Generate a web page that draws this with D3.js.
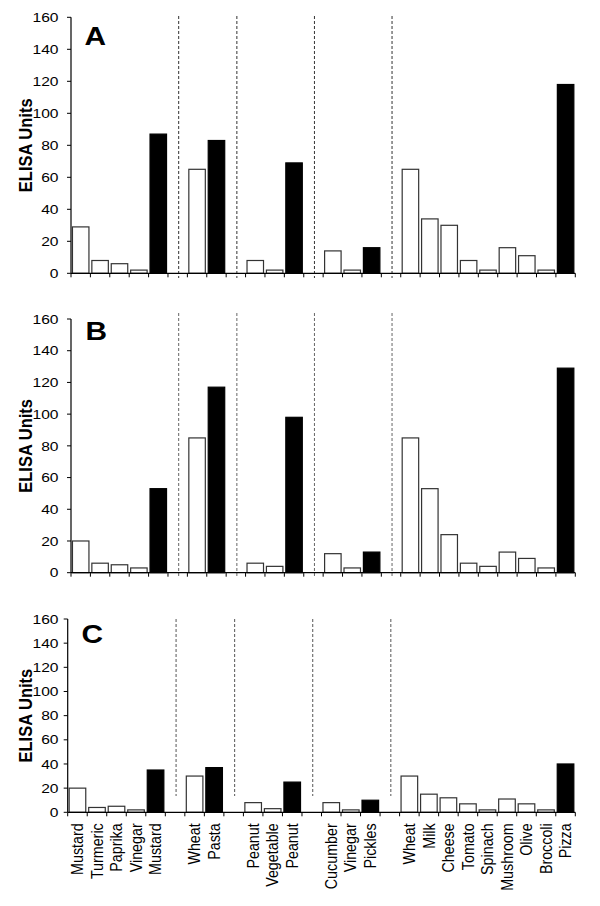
<!DOCTYPE html>
<html>
<head>
<meta charset="utf-8">
<script src="https://cdn.jsdelivr.net/npm/d3@7"></script>
<style>
  html, body { margin: 0; padding: 0; background: #fff; }
  svg { display: block; }
  text { font-family: "Liberation Sans", Arial, Helvetica, sans-serif; fill: #000; }
</style>
</head>
<body>
<svg id="chart" width="600" height="906"></svg>
<script>
// ---- data ----
const categories = ["Mustard","Turmeric","Paprika","Vinegar","Mustard","",
  "Wheat","Pasta","",
  "Peanut","Vegetable","Peanut","",
  "Cucumber","Vinegar","Pickles","",
  "Wheat","Milk","Cheese","Tomato","Spinach","Mushroom","Olive","Broccoli","Pizza"];
// 1 = food product (black bar), 0 = ingredient (white bar), null = gap
const isProduct = [0,0,0,0,1,null, 0,1,null, 0,0,1,null, 0,0,1,null, 0,0,0,0,0,0,0,0,1];
const valuesA = [29,8,6,2,87,null, 65,83,null, 8,2,69,null, 14,2,16,null, 65,34,30,8,2,16,11,2,118];
const valuesB = [20,6,5,3,53,null, 85,117,null, 6,4,98,null, 12,3,13,null, 85,53,24,6,4,13,9,3,129];
const valuesC = [20,4,5,2,35,null, 30,37,null, 8,3,25,null, 8,2,10,null, 30,15,12,7,2,11,7,2,40];
const yTicks = [0,20,40,60,80,100,120,140,160];
const panelLabels = ["A","B","C"];
const yTitle = "ELISA Units";

// ---- layout ----
const panels = [
  {label: panelLabels[0], values: valuesA, x0: 71,   x1: 575.3, yTop: 17.3, yBot: 273.3,
   dashTop: 16,  dashBot: 278, dashColor: "#333", letter: [84.5, 44.5], showLabels: false},
  {label: panelLabels[1], values: valuesB, x0: 71,   x1: 575.3, yTop: 319,  yBot: 572.7,
   dashTop: 313, dashBot: 577, dashColor: "#666", letter: [85.5, 339.5], showLabels: false},
  {label: panelLabels[2], values: valuesC, x0: 67.7, x1: 575.3, yTop: 619,  yBot: 812.3,
   dashTop: 619, dashBot: 796, dashColor: "#555", letter: [81.5, 642.5], showLabels: true}
];

const svg = d3.select("#chart");

panels.forEach(p => {
  const g = svg.append("g");
  const idx = d3.range(categories.length);
  const x = d3.scaleBand().domain(idx).range([p.x0, p.x1]).paddingInner(0).paddingOuter(0);
  const y = d3.scaleLinear().domain([0, 160]).range([p.yBot, p.yTop]);
  const inset = x.bandwidth() * 0.075;

  // dashed separators at gaps
  const gaps = idx.filter(i => isProduct[i] === null);
  g.selectAll("line.sep").data(gaps).enter().append("line")
    .attr("x1", i => x(i) + x.bandwidth() / 2 + 1)
    .attr("x2", i => x(i) + x.bandwidth() / 2 + 1)
    .attr("y1", p.dashTop).attr("y2", p.dashBot)
    .attr("stroke", p.dashColor).attr("stroke-width", 1)
    .attr("stroke-dasharray", "3,2");

  // bars
  const barIdx = idx.filter(i => p.values[i] !== null);
  g.selectAll("rect.bar").data(barIdx).enter().append("rect")
    .attr("x", i => x(i) + inset)
    .attr("width", x.bandwidth() - 2 * inset)
    .attr("y", i => y(p.values[i]))
    .attr("height", i => y(0) - y(p.values[i]))
    .attr("fill", i => isProduct[i] ? "#000" : "#fff")
    .attr("stroke", i => isProduct[i] ? "#000" : "#333")
    .attr("stroke-width", 1.2);

  // y axis
  g.append("line").attr("x1", p.x0).attr("x2", p.x0)
    .attr("y1", y(160)).attr("y2", y(0)).attr("stroke", "#000").attr("stroke-width", 1.2);
  g.selectAll("line.yt").data(yTicks).enter().append("line")
    .attr("x1", p.x0 - 4).attr("x2", p.x0)
    .attr("y1", d => y(d)).attr("y2", d => y(d))
    .attr("stroke", "#000").attr("stroke-width", 1);
  g.selectAll("text.yt").data(yTicks).enter().append("text")
    .attr("transform", d => `translate(${p.x0 - (p.x0 - 58.5)},${y(d)}) scale(1.2,1)`)
    .attr("text-anchor", "end").attr("dy", "0.36em")
    .attr("font-size", 13).text(d => d);

  // x axis
  g.append("line").attr("x1", p.x0).attr("x2", p.x1)
    .attr("y1", y(0)).attr("y2", y(0)).attr("stroke", "#000").attr("stroke-width", 1.2);
  const bounds = idx.map(i => x(i)).concat([p.x1]);
  g.selectAll("line.xt").data(bounds).enter().append("line")
    .attr("x1", d => d).attr("x2", d => d)
    .attr("y1", y(0)).attr("y2", y(0) + 4)
    .attr("stroke", "#000").attr("stroke-width", 1);

  // y title
  g.append("text")
    .attr("transform", `translate(32,${(p.yTop + p.yBot) / 2}) scale(1.12,1) rotate(-90)`)
    .attr("text-anchor", "middle").attr("font-weight", "bold")
    .attr("font-size", 16.5).text(yTitle);

  // panel letter
  g.append("text")
    .attr("transform", `translate(${p.letter[0]},${p.letter[1]}) scale(1.17,1)`)
    .attr("font-weight", "bold").attr("font-size", 25.5).text(p.label);

  // category labels
  if (p.showLabels) {
    g.selectAll("text.cat").data(barIdx).enter().append("text")
      .attr("transform", i => `translate(${x(i) + x.bandwidth() / 2},${y(0) + 11}) scale(1.1,1) rotate(-90)`)
      .attr("text-anchor", "end").attr("dy", "0.36em")
      .attr("font-size", 14.3).text(i => categories[i]);
  }
});
</script>
</body>
</html>
